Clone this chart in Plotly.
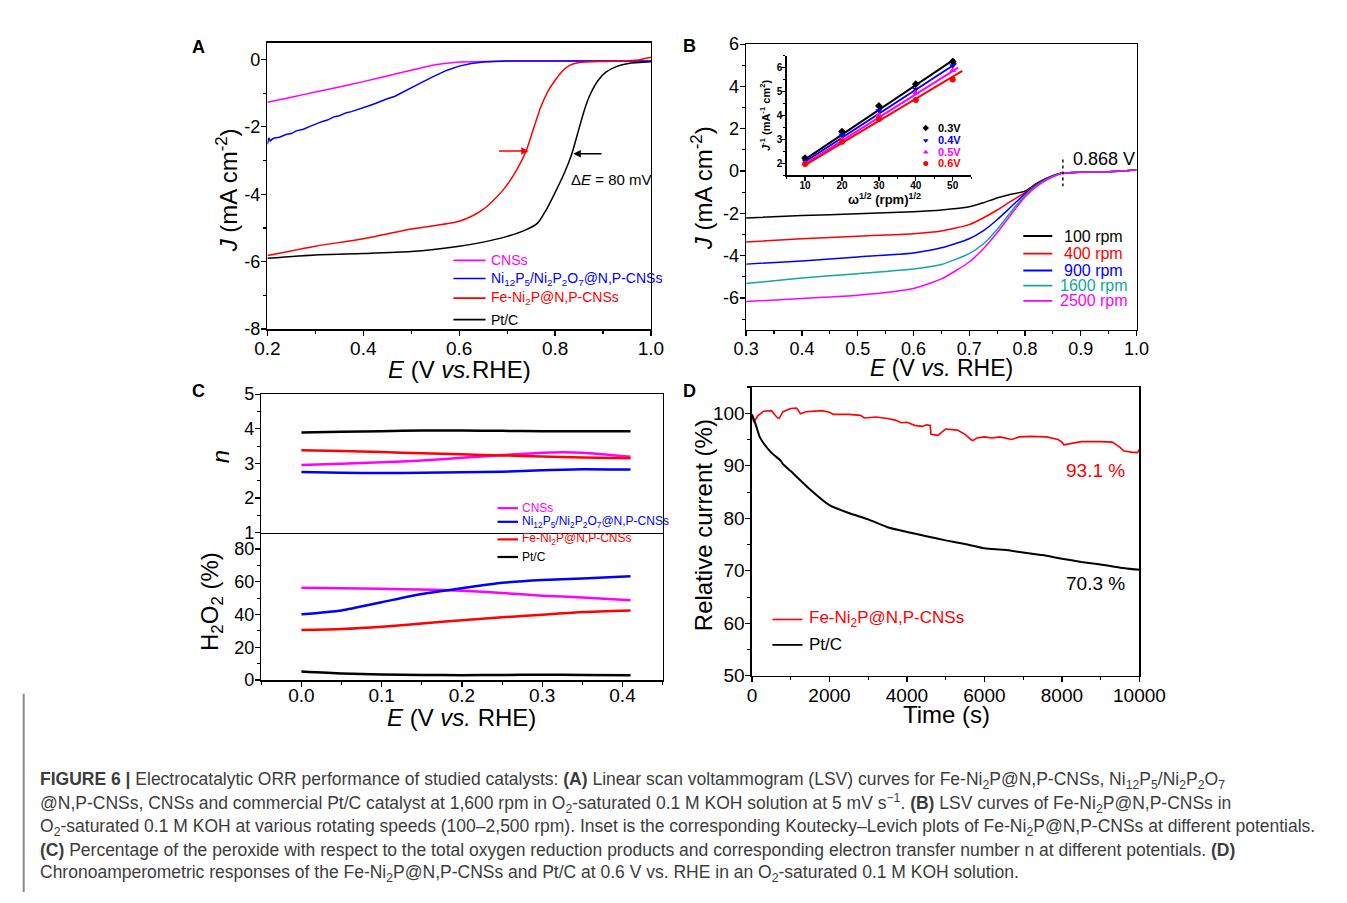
import plotly.graph_objects as go

W, H = 1347, 903


def px(x):
    return x / W


def py(y):
    return 1 - y / H


FONT = "Liberation Sans"
MAG, BLUE, RED, BLACK, TEAL = "#ff00ff", "#0000ff", "#ff0000", "#000000", "#10a89e"

# ---------------- Panel A : LSV at 1600 rpm ----------------
a_E_cns = [0.2, 0.25, 0.3, 0.35, 0.4, 0.45, 0.5, 0.55, 0.6, 0.65, 0.7, 0.8, 0.9, 1.0]
a_J_cns = [-1.27, -1.12, -0.97, -0.82, -0.66, -0.49, -0.32, -0.16, -0.08, -0.06, -0.05, -0.05, -0.05, -0.05]

a_E_ni = [0.2, 0.203, 0.206, 0.21, 0.215, 0.225, 0.24, 0.25, 0.26, 0.275, 0.29, 0.3, 0.315, 0.325,
          0.34, 0.35, 0.365, 0.375, 0.39, 0.4, 0.415, 0.425, 0.44, 0.45, 0.465, 0.475, 0.49, 0.5,
          0.525, 0.55, 0.575, 0.6, 0.625, 0.65, 0.675, 0.7, 0.8, 0.9, 1.0]
a_J_ni = [-2.52, -2.33, -2.42, -2.36, -2.33, -2.31, -2.22, -2.2, -2.12, -2.07, -1.98, -1.92, -1.84, -1.8,
          -1.7, -1.67, -1.58, -1.55, -1.47, -1.44, -1.36, -1.31, -1.22, -1.17, -1.1, -1.03, -0.93, -0.85,
          -0.66, -0.48, -0.32, -0.2, -0.12, -0.08, -0.06, -0.05, -0.05, -0.05, -0.05]

a_E_fe = [0.2, 0.3, 0.4, 0.5, 0.55, 0.6, 0.625, 0.65, 0.67, 0.69, 0.705, 0.72, 0.74, 0.755, 0.77,
          0.785, 0.8, 0.815, 0.83, 0.85, 0.9, 0.95, 0.98, 1.0]
a_J_fe = [-5.82, -5.54, -5.32, -5.03, -4.93, -4.8, -4.66, -4.45, -4.2, -3.9, -3.62, -3.28, -2.7, -2.05,
          -1.42, -0.95, -0.62, -0.35, -0.18, -0.09, -0.06, -0.04, 0.0, 0.06]

a_E_pt = [0.2, 0.3, 0.4, 0.5, 0.6, 0.65, 0.7, 0.74, 0.764, 0.78, 0.8, 0.82, 0.835, 0.846, 0.86,
          0.872, 0.89, 0.906, 0.93, 0.953, 1.0]
a_J_pt = [-5.9, -5.8, -5.76, -5.7, -5.54, -5.42, -5.25, -5.05, -4.85, -4.5, -3.95, -3.35, -2.8, -2.25,
          -1.55, -1.08, -0.62, -0.38, -0.2, -0.12, -0.07]

a_names = ["CNSs", "Ni<sub>12</sub>P<sub>5</sub>/Ni<sub>2</sub>P<sub>2</sub>O<sub>7</sub>@N,P-CNSs",
           "Fe-Ni<sub>2</sub>P@N,P-CNSs", "Pt/C"]
a_yticks = [-8, -6, -4, -2, 0]
a_yticklabels = ["-8", "-6", "-4", "-2", "0"]

# ---------------- Panel B : LSV at different rpm ----------------
b_E = [0.3, 0.4, 0.5, 0.6, 0.65, 0.7, 0.725, 0.75, 0.775, 0.8, 0.82, 0.84, 0.86, 0.868, 0.9, 0.95, 1.0]
b_J_100 = [-2.22, -2.1, -2.02, -1.92, -1.84, -1.69, -1.5, -1.27, -1.1, -0.95, -0.6, -0.33, -0.13, -0.09, -0.05, -0.03, 0.05]
b_J_400 = [-3.35, -3.2, -3.08, -2.96, -2.83, -2.53, -2.22, -1.84, -1.42, -1.02, -0.63, -0.34, -0.14, -0.09, -0.05, -0.03, 0.05]
b_J_900 = [-4.4, -4.25, -4.06, -3.87, -3.63, -3.2, -2.83, -2.3, -1.69, -1.08, -0.66, -0.35, -0.14, -0.09, -0.05, -0.03, 0.05]
b_J_1600 = [-5.32, -5.06, -4.85, -4.63, -4.42, -3.9, -3.45, -2.76, -1.92, -1.15, -0.7, -0.37, -0.15, -0.09, -0.05, -0.03, 0.05]
b_J_2500 = [-6.17, -6.02, -5.87, -5.55, -5.1, -4.3, -3.68, -2.92, -2.05, -1.22, -0.75, -0.4, -0.16, -0.09, -0.05, -0.03, 0.05]
b_labels = ["100 rpm", "400 rpm", "900 rpm", "1600 rpm", "2500 rpm"]
b_colors = [BLACK, RED, BLUE, TEAL, MAG]
b_yticks = [-6, -4, -2, 0, 2, 4, 6]
b_yticklabels = ["-6", "-4", "-2", "0", "2", "4", "6"]

# Inset : Koutecky-Levich plots
kl_w = [10, 20, 30, 40, 50]
kl_03 = [2.22, 3.33, 4.4, 5.31, 6.25]
kl_04 = [2.1, 3.17, 4.2, 5.1, 6.08]
kl_05 = [2.0, 3.0, 4.02, 4.95, 5.88]
kl_06 = [1.97, 2.9, 3.85, 4.65, 5.5]
kl_fit_x03 = [10, 50.5]
kl_fit_03 = [2.17, 6.35]
kl_fit_x04 = [10, 51]
kl_fit_04 = [2.07, 6.18]
kl_fit_x05 = [10, 51.5]
kl_fit_05 = [1.98, 6.0]
kl_fit_x06 = [10, 52.6]
kl_fit_06 = [1.93, 5.86]
kl_labels = ["0.3V", "0.4V", "0.5V", "0.6V"]
kl_leg_y = [3.48, 2.96, 2.47, 2.0]

# ---------------- Panel C : n and H2O2 ----------------
c_E = [0.0, 0.05, 0.1, 0.15, 0.2, 0.25, 0.3, 0.35, 0.41]
c_n_cns = [2.95, 2.99, 3.03, 3.08, 3.16, 3.24, 3.31, 3.31, 3.19]
c_n_ni = [2.75, 2.73, 2.72, 2.73, 2.74, 2.76, 2.8, 2.83, 2.82]
c_n_fe = [3.38, 3.36, 3.33, 3.29, 3.26, 3.23, 3.2, 3.17, 3.15]
c_n_pt = [3.89, 3.91, 3.93, 3.95, 3.95, 3.94, 3.93, 3.93, 3.93]
c_h_cns = [56.3, 56.0, 55.7, 55.2, 54.5, 53.1, 51.5, 50.4, 48.7]
c_h_ni = [40.1, 42.5, 47.5, 52.5, 56.0, 59.3, 61.0, 62.0, 63.4]
c_h_fe = [30.5, 31.1, 32.5, 34.5, 36.5, 38.3, 39.9, 41.5, 42.5]
c_h_pt = [5.2, 4.0, 3.4, 3.1, 3.0, 3.1, 3.2, 3.1, 3.0]

# ---------------- Panel D : chronoamperometry ----------------
d_t_fe = [0, 50, 150, 300, 500, 550, 650, 700, 800, 1000, 1150, 1200, 1250, 1400, 1800, 2000, 2100,
          2500, 2800, 2900, 3200, 3500, 3700, 3850, 4000, 4200, 4400, 4500, 4600, 4620, 4800, 4900,
          5000, 5300, 5500, 5650, 5700, 5800, 6000, 6200, 6400, 6700, 6900, 7200, 7600, 7900, 8000,
          8050, 8200, 8500, 9000, 9300, 9500, 9600, 9800, 9950, 10000]
d_r_fe = [99.5, 98.3, 99.5, 100.4, 100.5, 100.0, 99.2, 99.0, 100.3, 100.9, 101.0, 100.5, 99.9, 100.3,
          100.5, 100.2, 99.8, 99.8, 99.6, 99.1, 99.3, 99.0, 98.7, 98.2, 98.3, 97.7, 97.5, 97.8, 97.7,
          96.0, 95.8, 96.4, 97.0, 96.8, 96.0, 95.0, 94.8, 95.3, 95.5, 95.3, 95.5, 95.0, 95.5, 95.6,
          95.5, 95.0, 94.5, 94.0, 94.2, 94.6, 94.6, 94.5, 93.5, 92.8, 92.6, 92.5, 93.1]
d_t_pt = [0, 100, 200, 300, 500, 750, 800, 1000, 1500, 2000, 2500, 3000, 3500, 4000, 4500, 5000, 5500,
          6000, 6500, 7000, 7500, 8000, 8500, 9000, 9500, 10000]
d_r_pt = [99.8, 97.8, 95.5, 94.3, 92.5, 90.9, 90.3, 89.0, 85.5, 82.5, 81.0, 79.8, 78.3, 77.4, 76.6,
          75.8, 75.1, 74.3, 74.0, 73.5, 73.0, 72.3, 71.7, 71.2, 70.6, 70.2]

caption_lines = [
    "<b>FIGURE 6 |</b> Electrocatalytic ORR performance of studied catalysts: <b>(A)</b> Linear scan voltammogram (LSV) curves for Fe-Ni<sub>2</sub>P@N,P-CNSs, Ni<sub>12</sub>P<sub>5</sub>/Ni<sub>2</sub>P<sub>2</sub>O<sub>7</sub>",
    "@N,P-CNSs, CNSs and commercial Pt/C catalyst at 1,600 rpm in O<sub>2</sub>-saturated 0.1 M KOH solution at 5 mV s<sup>−1</sup>. <b>(B)</b> LSV curves of Fe-Ni<sub>2</sub>P@N,P-CNSs in",
    "O<sub>2</sub>-saturated 0.1 M KOH at various rotating speeds (100–2,500 rpm). Inset is the corresponding Koutecky–Levich plots of Fe-Ni<sub>2</sub>P@N,P-CNSs at different potentials.",
    "<b>(C)</b> Percentage of the peroxide with respect to the total oxygen reduction products and corresponding electron transfer number n at different potentials. <b>(D)</b>",
    "Chronoamperometric responses of the Fe-Ni<sub>2</sub>P@N,P-CNSs and Pt/C at 0.6 V vs. RHE in an O<sub>2</sub>-saturated 0.1 M KOH solution.",
]

fig = go.Figure()


def line(x, y, color, xa, ya, width=1.5, shape="spline"):
    fig.add_trace(go.Scatter(x=x, y=y, mode="lines", xaxis=xa, yaxis=ya, showlegend=False,
                             line=dict(color=color, width=width, shape=shape, smoothing=0.6),
                             hoverinfo="skip"))


# A
line(a_E_cns, a_J_cns, MAG, "x", "y")
line(a_E_ni, a_J_ni, BLUE, "x", "y", shape="linear")
line(a_E_fe, a_J_fe, RED, "x", "y")
line(a_E_pt, a_J_pt, BLACK, "x", "y")

# B
for J, c in zip([b_J_100, b_J_400, b_J_900, b_J_1600, b_J_2500], b_colors):
    line(b_E, J, c, "x2", "y2")

# Inset
for fx, fy, c in zip([kl_fit_x03, kl_fit_x04, kl_fit_x05, kl_fit_x06],
                     [kl_fit_03, kl_fit_04, kl_fit_05, kl_fit_06], [BLACK, BLUE, MAG, RED]):
    line(fx, fy, c, "x3", "y3", width=2, shape="linear")
for vals, c, sym in zip([kl_03, kl_04, kl_05, kl_06], [BLACK, BLUE, MAG, RED],
                        ["diamond", "triangle-down", "triangle-up", "circle"]):
    fig.add_trace(go.Scatter(x=kl_w, y=vals, mode="markers", xaxis="x3", yaxis="y3", showlegend=False,
                             marker=dict(color=c, size=6, symbol=sym), hoverinfo="skip"))
fig.add_trace(go.Scatter(x=[42.7] * 4, y=kl_leg_y, mode="markers", xaxis="x3", yaxis="y3",
                         showlegend=False, hoverinfo="skip",
                         marker=dict(color=[BLACK, BLUE, MAG, RED], size=5,
                                     symbol=["diamond", "triangle-down", "triangle-up", "circle"])))

# C
for v, c in zip([c_n_cns, c_n_ni, c_n_fe, c_n_pt], [MAG, BLUE, RED, BLACK]):
    line(c_E, v, c, "x4", "y4", width=2.5)
for v, c in zip([c_h_cns, c_h_ni, c_h_fe, c_h_pt], [MAG, BLUE, RED, BLACK]):
    line(c_E, v, c, "x5", "y5", width=2.5)

# D
line(d_t_fe, d_r_fe, RED, "x6", "y6", width=1.6, shape="linear")
line(d_t_pt, d_r_pt, BLACK, "x6", "y6", width=2)


def axis(dom, rng, dtick, minor, anchor, size=18, mirror=True, labels=True, ticks="outside",
         bold=False, lw=1.5, standoff=-3, ticklen=5):
    d = dict(domain=dom, range=rng, anchor=anchor, showline=True, linecolor="black", linewidth=lw,
             mirror=mirror, ticks=ticks, ticklen=ticklen, tickwidth=1.3, tickcolor="black",
             dtick=dtick, tick0=0, showgrid=False, zeroline=False, showticklabels=labels,
             ticklabelstandoff=standoff,
             tickfont=dict(family=FONT, size=size, color="black", weight="bold" if bold else "normal"))
    if minor and ticks:
        d["minor"] = dict(dtick=minor, ticks="outside", ticklen=max(2, ticklen - 2), tickcolor="black",
                          tickwidth=1.1, showgrid=False)
    return d


xa = [px(262), px(657)]
ya = [py(326.7), py(33.3)]
xb = [px(755), px(1157)]
yb = [py(327.3), py(35)]
xi = [px(796.7), px(986.7)]
yi = [py(169.3), py(46.7)]
xc = [px(255.7), px(669)]
yct = [py(535), py(393.3)]
ycb = [py(686), py(535)]
xd = [px(761), px(1160)]
yd = [py(681.7), py(386)]

fig.update_layout(
    width=W, height=H, margin=dict(l=0, r=0, t=0, b=0), autosize=False,
    paper_bgcolor="white", plot_bgcolor="rgba(0,0,0,0)",
    font=dict(family=FONT, color="black"),
    xaxis=axis(xa, [0.2, 1.0], 0.2, 0.1, "y", size=19),
    yaxis=axis(ya, [-8, 0.5], 2, 1, "x", size=18),
    xaxis2=axis(xb, [0.3, 1.0], 0.1, 0.05, "y2", size=18),
    yaxis2=axis(yb, [-7.5, 6], 2, 1, "x2", size=18),
    xaxis3=axis(xi, [5, 55], 10, 5, "y3", size=10, mirror=False, bold=True, lw=1.2, standoff=-4, ticklen=4),
    yaxis3=axis(yi, [1.5, 6.5], 1, 0.5, "x3", size=10, mirror=False, bold=True, lw=1.2, standoff=-3, ticklen=4),
    xaxis4=axis(xc, [-0.05, 0.45], 0.1, None, "y4", labels=False, ticks=""),
    yaxis4=axis(yct, [1, 5], 1, 0.5, "x4", size=18),
    xaxis5=axis(xc, [-0.05, 0.45], 0.1, 0.05, "y5", size=19, mirror=False, standoff=-7),
    yaxis5=axis(ycb, [0, 90], 20, 10, "x5", size=18),
    xaxis6=axis(xd, [0, 10000], 2000, 1000, "y6", size=19),
    yaxis6=axis(yd, [50, 105], 10, 5, "x6", size=19),
)
fig.layout.xaxis.tickformat = ".1f"
fig.layout.xaxis2.tickformat = ".1f"
fig.layout.xaxis5.tickformat = ".1f"
fig.layout.xaxis6.tickformat = "d"
fig.layout.yaxis.tickvals = a_yticks
fig.layout.yaxis.ticktext = a_yticklabels
fig.layout.yaxis2.tickvals = b_yticks
fig.layout.yaxis2.ticktext = b_yticklabels

ann = []
shapes = []


def text(x, y, t, size, color="black", xanchor="center", angle=0, bold=False, xref="paper", yref="paper"):
    ann.append(dict(x=x, y=y, xref=xref, yref=yref, text=t, showarrow=False, xanchor=xanchor,
                    yanchor="middle", textangle=angle,
                    font=dict(family=FONT, size=size, color=color, weight="bold" if bold else "normal")))


def hline(x0, x1, y, color, width=1.6, xref="paper", yref="paper", dash="solid"):
    shapes.append(dict(type="line", x0=x0, x1=x1, y0=y, y1=y, xref=xref, yref=yref,
                       line=dict(color=color, width=width, dash=dash)))


# Panel letters
for lab, x, y in [("A", 191, 38), ("B", 697, 37), ("C", 191, 390), ("D", 697, 390)]:
    text(px(x), py(y), lab, 18, bold=True)

# Axis titles
text(px(220), py(185), "<i>J</i> (mA cm<sup>-2</sup>)", 24, angle=-90)
text(px(460), py(368), "<i>E</i> (V <i>vs.</i>RHE)", 24)
text(px(709), py(182), "<i>J</i> (mA cm<sup>-2</sup>)", 24, angle=-90)
text(px(956), py(367), "<i>E</i> (V <i>vs.</i> RHE)", 23)
text(px(214), py(457), "<i>n</i>", 24, angle=-90)
text(px(205), py(606), "H<sub>2</sub>O<sub>2</sub> (%)", 24, angle=-90)
text(px(462), py(724), "<i>E</i> (V <i>vs.</i> RHE)", 24)
text(px(711), py(527), "Relative current (%)", 24, angle=-90)
text(px(961), py(721), "Time (s)", 24)
# inset titles
text(px(775), py(108), "<i>J</i><sup>-1</sup> (mA<sup>-1</sup> cm<sup>2</sup>)", 11, angle=-90, bold=True)
text(px(897), py(193), "ω<sup>1/2</sup> (rpm)<sup>1/2</sup>", 13, bold=True)

# Panel A legend and annotations
a_leg_y = [-5.96, -6.5, -7.08, -7.72]
for name, c, yv in zip(a_names, [MAG, BLUE, RED, BLACK], a_leg_y):
    hline(0.588, 0.655, yv, c, width=1.6, xref="x", yref="y")
    text(0.662, yv, name, 14, color=c, xanchor="left", xref="x", yref="y")
ann.append(dict(x=0.745, y=-2.72, ax=0.68, ay=-2.72, xref="x", yref="y", axref="x", ayref="y",
                showarrow=True, arrowhead=2, arrowsize=1, arrowwidth=1.5, arrowcolor=RED, text=""))
ann.append(dict(x=0.838, y=-2.8, ax=0.9, ay=-2.8, xref="x", yref="y", axref="x", ayref="y",
                showarrow=True, arrowhead=2, arrowsize=1, arrowwidth=1.5, arrowcolor=BLACK, text=""))
text(0.829, -3.56, "Δ<i>E</i> = 80 mV", 15, xanchor="left", xref="x", yref="y")

# Panel B legend and marker
b_leg_y = [-3.07, -3.9, -4.7, -5.42, -6.14]
for lab, c, yv in zip(b_labels, b_colors, b_leg_y):
    hline(0.797, 0.849, yv, c, width=1.8, xref="x2", yref="y2")
    text(px(1113), yv, lab, 16, color=c, xref="paper", yref="y2")
shapes.append(dict(type="line", x0=0.868, x1=0.868, y0=0.55, y1=-0.72, xref="x2", yref="y2",
                   line=dict(color="black", width=1.4, dash="dot")))
text(0.883, 0.58, "0.868 V", 18, xanchor="left", xref="x2", yref="y2")

# Inset legend
for lab, c, yv in zip(kl_labels, [BLACK, BLUE, MAG, RED], kl_leg_y):
    text(45.4, yv, lab, 11, color=c, xanchor="left", bold=True, xref="x3", yref="y3")

# Panel C legend
for name, c, yv in zip(a_names, [MAG, BLUE, RED, BLACK], [510, 524, 542, 560]):
    hline(px(499), px(520), py(yv), c, width=2.2)
    text(px(522), py(yv), name, 12, color=c, xanchor="left")

# Panel D legend and labels
hline(px(782), px(813), py(624), RED, width=1.6)
text(px(818), py(624), "Fe-Ni<sub>2</sub>P@N,P-CNSs", 17, color=RED, xanchor="left")
hline(px(782), px(813), py(650), BLACK, width=1.8)
text(px(818), py(650), "Pt/C", 17, xanchor="left")
text(px(1115), py(471), "93.1 %", 19, color=RED)
text(px(1115), py(587), "70.3 %", 19)

# Caption
for i, t in enumerate(caption_lines):
    text(px(26), py(789 + i * 23.8), t, 17.5, color="#3c3c3c", xanchor="left")
shapes.append(dict(type="line", x0=px(11), x1=px(11), y0=py(700), y1=0, xref="paper", yref="paper",
                   line=dict(color="#8a8a8a", width=2)))

fig.update_layout(annotations=ann, shapes=shapes)
fig.write_html("out.html", config={"displayModeBar": False, "staticPlot": True},
               post_script="document.body.style.margin='0';document.body.style.padding='0';"
                           "document.documentElement.style.overflow='hidden';")
